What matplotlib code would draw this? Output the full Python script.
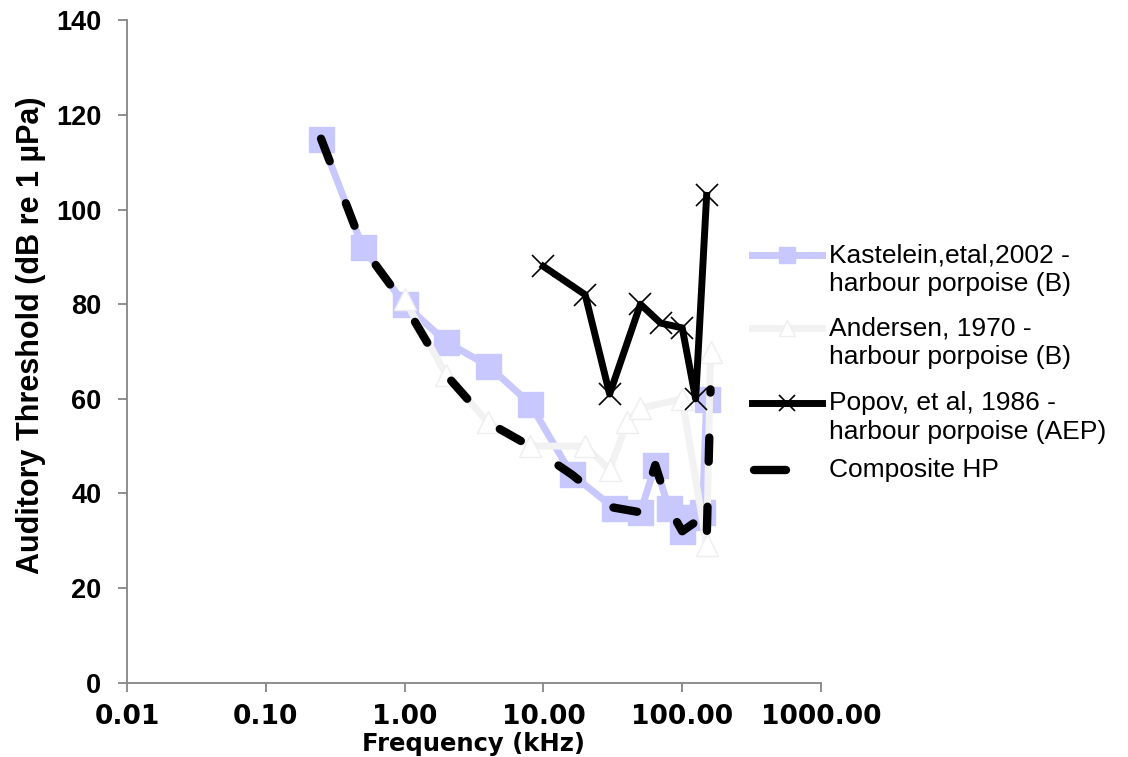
import numpy as np
import matplotlib
matplotlib.use('Agg')
import matplotlib.pyplot as plt
from matplotlib.lines import Line2D
from matplotlib.ticker import FixedLocator, FixedFormatter, NullLocator

plt.rcParams['font.family'] = ['Liberation Sans', 'DejaVu Sans']

# ---- data (frequency in kHz, threshold in dB re 1 uPa)
kast_f = [0.25, 0.5, 1, 2, 4, 8, 16, 32, 50, 64, 80, 100, 120, 140, 150]
kast_db = [115, 92, 80, 72, 67, 59, 44, 37, 36, 46, 37, 32, 35, 36, 60]

and_f = [1, 2, 4, 8, 20, 30, 40, 50, 100, 150, 160]
and_db = [81, 65, 55, 50, 50, 45, 55, 58, 60, 29, 70]

pop_f = [10, 20, 30, 50, 70, 100, 125, 150]
pop_db = [88, 82, 61, 80, 76, 75, 60, 103]

comp_f = [0.25, 0.5, 1, 2, 4, 8, 16, 32, 50, 64, 80, 100, 140, 150, 160]
comp_db = [115, 92, 80, 65, 55, 50, 44, 37, 36, 46, 37, 32, 35, 30, 62]

xticks = [0.01, 0.1, 1, 10, 100, 1000]
xticklabels = ['0.01', '0.10', '1.00', '10.00', '100.00', '1000.00']
yticks = [0, 20, 40, 60, 80, 100, 120, 140]

labels = ['Kastelein,etal,2002 -\nharbour porpoise (B)',
          'Andersen, 1970 -\nharbour porpoise (B)',
          'Popov, et al, 1986 -\nharbour porpoise (AEP)',
          'Composite HP']

W, H = 1128, 757
fig = plt.figure(figsize=(W/100, H/100), dpi=100)
ax = fig.add_axes([127/W, 1-682.6/H, (821-127)/W, (682.6-20.4)/H])

kast_c = '#C8C8FF'
and_c = '#F2F2F2'
grey = '#868686'

ax.plot(kast_f, kast_db, color=kast_c, lw=5, marker='s', ms=18,
        mfc=kast_c, mec=kast_c, solid_joinstyle='round', zorder=2)
ax.plot(and_f, and_db, color=and_c, lw=5, marker='^', ms=16,
        mfc='white', mec='#EEEEEE', mew=1, zorder=3)
ax.plot(pop_f, pop_db, color='black', lw=5, marker='x', ms=16, mew=1.2,
        solid_joinstyle='round', zorder=4)
ax.plot(comp_f, comp_db, color='black', lw=6, ls=(0, (2.9, 5.4)),
        dash_capstyle='round', zorder=5)

ax.set_xscale('log')
ax.set_xlim(0.01, 1000)
ax.set_ylim(0, 140)
ax.xaxis.set_major_locator(FixedLocator(xticks))
ax.xaxis.set_major_formatter(FixedFormatter(xticklabels))
ax.xaxis.set_minor_locator(NullLocator())
ax.set_yticks(yticks)

for s in ['top', 'right']:
    ax.spines[s].set_visible(False)
for s in ['left', 'bottom']:
    ax.spines[s].set_color(grey)
    ax.spines[s].set_linewidth(1.3)

ax.tick_params(axis='both', direction='out', color=grey, width=1.3, length=6.5)
ax.tick_params(axis='y', pad=12, labelsize=19.5)
ax.tick_params(axis='x', pad=9)
for t in ax.get_yticklabels():
    t.set_fontweight('bold')
for t in ax.get_xticklabels():
    t.set_fontweight('bold')
    t.set_fontfamily('DejaVu Sans')
    t.set_fontsize(19)

ax.set_xlabel('Frequency (kHz)', fontsize=17.5, fontweight='bold', family='DejaVu Sans')
ax.xaxis.set_label_coords(0.5, -0.0745)
ax.set_ylabel('Auditory Threshold (dB re 1 µPa)', fontsize=22, fontweight='bold')
ax.yaxis.set_label_coords(-0.116, 0.525)

# ---- legend, handle aligned with the first text line like the original
def fx(px):
    return px/W

def fy(py):
    return 1 - py/H

rows = [255, 328, 403, 470]
line_st = [dict(color=kast_c, lw=5),
           dict(color=and_c, lw=5),
           dict(color='black', lw=5),
           dict(color='black', lw=6, solid_capstyle='round')]
mark_st = [dict(marker='s', ms=12, mfc=kast_c, mec=kast_c),
           dict(marker='^', ms=12, mfc='white', mec='#EEEEEE', mew=1),
           dict(marker='x', ms=12, mec='black', mew=1.2),
           None]
for y, ls_, ms_, lab in zip(rows, line_st, mark_st, labels):
    if ms_ is None:
        xs = [fx(754), fx(786)]
    else:
        xs = [fx(752), fx(822)]
    fig.add_artist(Line2D(xs, [fy(y), fy(y)], transform=fig.transFigure, **ls_))
    if ms_ is not None:
        fig.add_artist(Line2D([fx(787)], [fy(y)], transform=fig.transFigure,
                              linestyle='none', **ms_))
    for k, part in enumerate(lab.split('\n')):
        fig.text(fx(829), fy(y + 29*k), part, fontsize=19, va='center', ha='left')

fig.savefig('out.png', dpi=100)
